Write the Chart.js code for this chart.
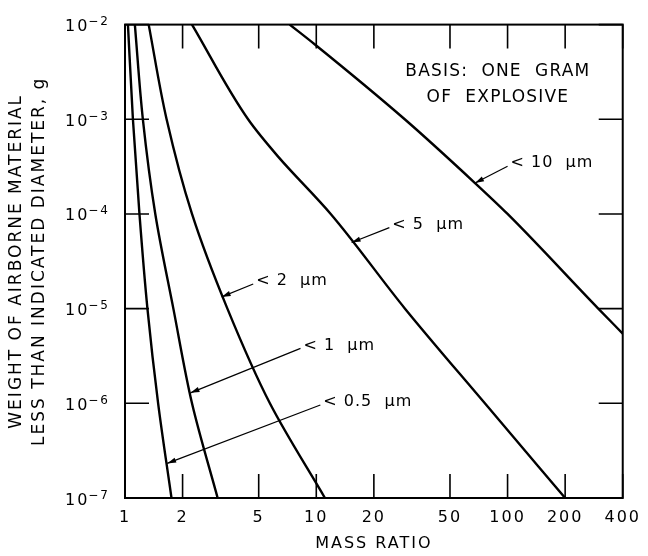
<!DOCTYPE html>
<html>
<head>
<meta charset="utf-8">
<script src="https://cdn.jsdelivr.net/npm/chart.js@4.4.1/dist/chart.umd.min.js"></script>
<style>
  html, body { margin: 0; padding: 0; background: #fff; }
  #wrap { width: 648px; height: 556px; }
</style>
</head>
<body>
<div id="wrap"><canvas id="chart"></canvas></div>
<script>
// axis ticks
const xTicks = [1, 2, 5, 10, 20, 50, 100, 200, 400];
const yTicks = [1e-7, 1e-6, 1e-5, 1e-4, 1e-3, 1e-2];
const yTickLabels = [['10', '\u22127'], ['10', '\u22126'], ['10', '\u22125'], ['10', '\u22124'], ['10', '\u22123'], ['10', '\u22122']];

// curves: mass ratio read at each decade of weight
const weights = [1e-2, 1e-3, 1e-4, 1e-5, 1e-6, 1e-7];
const ratioHalfUm = [1.036, 1.10, 1.19, 1.31, 1.49, 1.75];
const ratio1Um = [1.126, 1.24, 1.44, 1.79, 2.24, 3.05];
const ratio2Um = [1.33, 1.65, 2.24, 3.43, 5.72, 11.1];
const ratio5Um = [2.24, 4.4, 6.3, 11.9, 29.1, 76.1, 200];
const weights5Um = [1e-2, 1e-3, 4.06e-4, 1e-4, 1e-5, 1e-6, 1e-7];
// the 10 um curve leaves through the right edge
const ratio10Um = [7.26, 9.8, 29, 67.6, 100, 298, 400];
const weights10Um = [1e-2, 6.2e-3, 1e-3, 2.12e-4, 1e-4, 1e-5, 5.45e-6];

// points ordered by rising weight, so the spline runs along the y axis
function points(xs, ys) {
    return xs.map((v, i) => ({ x: v, y: ys[i] })).reverse();
}

function curve(xs, ys) {
    return {
        data: points(xs, ys),
        borderColor: '#000',
        borderWidth: 2.4,
        pointRadius: 0,
        fill: false,
        indexAxis: 'y',
        cubicInterpolationMode: 'monotone'
    };
}

// callouts: arrow tip on the curve, arrow tail where the text starts
const callouts = [
    { text: '< 10  \u03BCm', tip: [67.6, 2.12e-4], tail: [100, 3.19e-4] },
    { text: '< 5  \u03BCm', tip: [15.3, 5.0e-5], tail: [24.1, 7.17e-5] },
    { text: '< 2  \u03BCm', tip: [3.2, 1.33e-5], tail: [4.68, 1.82e-5] },
    { text: '< 1  \u03BCm', tip: [2.2, 1.29e-6], tail: [8.27, 3.8e-6] },
    { text: '< 0.5  \u03BCm', tip: [1.66, 2.32e-7], tail: [10.5, 9.6e-7] }
];
const note = { lines: ['BASIS:  ONE  GRAM', 'OF  EXPLOSIVE'], at: [89, 3.2e-3], lineGap: 26 };

const FONT = '"DejaVu Sans", sans-serif';

const letterSpacing = {
    id: 'letterSpacing',
    beforeDraw(chart) {
        chart.ctx.letterSpacing = '2px';
    }
};

const frameAndTicks = {
    id: 'frameAndTicks',
    afterDatasetsDraw(chart) {
        const { ctx, chartArea: a, scales: { x, y } } = chart;
        ctx.save();
        ctx.strokeStyle = '#000';
        ctx.lineWidth = 1.6;
        ctx.beginPath();
        xTicks.forEach(v => {
            const px = x.getPixelForValue(v);
            ctx.moveTo(px, a.bottom); ctx.lineTo(px, a.bottom - 24);
            ctx.moveTo(px, a.top); ctx.lineTo(px, a.top + 24);
        });
        yTicks.forEach(v => {
            const py = y.getPixelForValue(v);
            ctx.moveTo(a.left, py); ctx.lineTo(a.left + 24, py);
            ctx.moveTo(a.right, py); ctx.lineTo(a.right - 24, py);
        });
        ctx.stroke();
        ctx.lineWidth = 2;
        ctx.strokeRect(a.left, a.top, a.right - a.left, a.bottom - a.top);
        ctx.restore();
    }
};

// y tick labels as 10 with a raised exponent
const powerLabels = {
    id: 'powerLabels',
    afterDraw(chart) {
        const { ctx, chartArea: a, scales: { y } } = chart;
        ctx.save();
        ctx.fillStyle = '#000';
        ctx.textAlign = 'right';
        ctx.textBaseline = 'alphabetic';
        yTicks.forEach((v, i) => {
            const py = y.getPixelForValue(v);
            const right = a.left - 15;
            ctx.font = '12px ' + FONT;
            ctx.letterSpacing = '2px';
            ctx.fillText(yTickLabels[i][1], right, py + 0.5);
            const w = ctx.measureText(yTickLabels[i][1]).width;
            ctx.font = '16px ' + FONT;
            ctx.letterSpacing = '2px';
            ctx.fillText(yTickLabels[i][0], right - w + 1, py + 6.5);
        });
        ctx.restore();
    }
};

const labels = {
    id: 'labels',
    afterDatasetsDraw(chart) {
        const { ctx, scales: { x, y } } = chart;
        ctx.save();
        ctx.fillStyle = '#000';
        ctx.strokeStyle = '#000';
        ctx.font = '16px ' + FONT;
        ctx.letterSpacing = '1px';
        ctx.textAlign = 'left';
        ctx.textBaseline = 'middle';
        callouts.forEach(c => {
            const tx = x.getPixelForValue(c.tip[0]), ty = y.getPixelForValue(c.tip[1]);
            const sx = x.getPixelForValue(c.tail[0]), sy = y.getPixelForValue(c.tail[1]);
            ctx.lineWidth = 1.2;
            ctx.beginPath();
            ctx.moveTo(sx, sy);
            ctx.lineTo(tx, ty);
            ctx.stroke();
            const ang = Math.atan2(ty - sy, tx - sx);
            ctx.beginPath();
            ctx.moveTo(tx, ty);
            ctx.lineTo(tx - 9 * Math.cos(ang) + 2.6 * Math.sin(ang), ty - 9 * Math.sin(ang) - 2.6 * Math.cos(ang));
            ctx.lineTo(tx - 9 * Math.cos(ang) - 2.6 * Math.sin(ang), ty - 9 * Math.sin(ang) + 2.6 * Math.cos(ang));
            ctx.closePath();
            ctx.fill();
            ctx.fillText(c.text, sx + 3, sy - 3);
        });
        ctx.font = '17px ' + FONT;
        ctx.letterSpacing = '1.2px';
        ctx.textAlign = 'center';
        const nx = x.getPixelForValue(note.at[0]), ny = y.getPixelForValue(note.at[1]);
        note.lines.forEach((t, i) => ctx.fillText(t, nx, ny + i * note.lineGap));
        ctx.restore();
    }
};

new Chart(document.getElementById('chart'), {
    type: 'line',
    data: {
        datasets: [
            curve(ratioHalfUm, weights),
            curve(ratio1Um, weights),
            curve(ratio2Um, weights),
            curve(ratio5Um, weights5Um),
            curve(ratio10Um, weights10Um)
        ]
    },
    options: {
        indexAxis: 'y',
        responsive: true,
        maintainAspectRatio: false,
        animation: false,
        layout: { padding: { top: 20, right: 20, left: 0, bottom: 0 } },
        plugins: {
            legend: { display: false },
            tooltip: { enabled: false }
        },
        scales: {
            x: {
                type: 'logarithmic',
                position: 'bottom',
                min: 1,
                max: 400,
                grid: { display: false, drawTicks: false },
                border: { display: false },
                afterBuildTicks: scale => { scale.ticks = xTicks.map(v => ({ value: v })); },
                afterFit: scale => { scale.height = 58; },
                ticks: {
                    autoSkip: false,
                    maxRotation: 0,
                    padding: 10,
                    color: '#000',
                    font: { family: FONT, size: 16 },
                    callback: v => String(v)
                },
                title: {
                    display: true,
                    text: 'MASS RATIO',
                    color: '#000',
                    font: { family: FONT, size: 16 },
                    padding: { top: 0, bottom: 3 }
                }
            },
            y: {
                type: 'logarithmic',
                position: 'left',
                min: 1e-7,
                max: 1e-2,
                grid: { display: false, drawTicks: false },
                border: { display: false },
                afterBuildTicks: scale => { scale.ticks = yTicks.map(v => ({ value: v })); },
                afterFit: scale => { scale.width = 125; },
                ticks: {
                    autoSkip: false,
                    padding: 15,
                    color: 'rgba(0,0,0,0)',
                    font: { family: FONT, size: 16 },
                    callback: () => ''
                },
                title: {
                    display: true,
                    text: ['WEIGHT OF AIRBORNE MATERIAL', 'LESS THAN INDICATED DIAMETER, g'],
                    color: '#000',
                    font: { family: FONT, size: 17, lineHeight: 1.35 },
                    padding: { top: 5, bottom: 0 }
                }
            }
        }
    },
    plugins: [letterSpacing, frameAndTicks, powerLabels, labels]
});
</script>
</body>
</html>
